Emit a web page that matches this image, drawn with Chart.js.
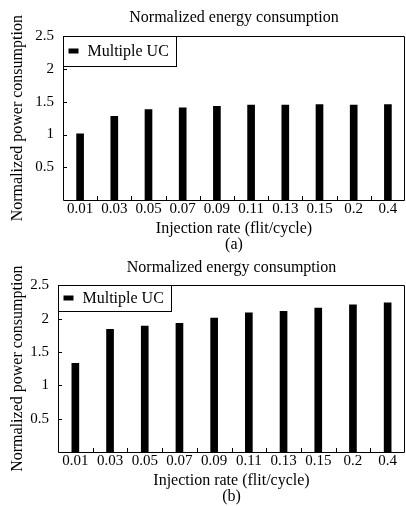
<!DOCTYPE html>
<html>
<head>
<meta charset="utf-8">
<script src="https://cdn.jsdelivr.net/npm/chart.js@4.4.1/dist/chart.umd.min.js"></script>
<style>
  html, body { margin: 0; padding: 0; background: #fff; }
  .box { position: relative; width: 406px; }
  #boxA { height: 254px; }
  #boxB { height: 252px; }
</style>
</head>
<body>
<div class="box" id="boxA"><canvas id="chartA"></canvas></div>
<div class="box" id="boxB"><canvas id="chartB"></canvas></div>
<script>
// injection rates (flit/cycle)
const rates = ['0.01', '0.03', '0.05', '0.07', '0.09', '0.11', '0.13', '0.15', '0.2', '0.4'];
// normalized power, figure (a)
const powerA = [1.01, 1.28, 1.38, 1.41, 1.43, 1.45, 1.45, 1.46, 1.45, 1.46];
// normalized power, figure (b)
const powerB = [1.33, 1.84, 1.89, 1.93, 2.01, 2.09, 2.11, 2.16, 2.21, 2.24];
const yTicks = [0.5, 1, 1.5, 2, 2.5];

const FONT = '"Liberation Serif", "Times New Roman", serif';
Chart.defaults.font.family = FONT;
Chart.defaults.font.size = 15;
Chart.defaults.color = '#000';

// frame, inward tick marks and boxed legend in the top-left corner
const framePlugin = {
    id: 'frame',
    afterDraw(chart, args, opts) {
        const ctx = chart.ctx;
        const a = chart.chartArea;
        const xs = chart.scales.x;
        const ys = chart.scales.y;
        ctx.save();
        ctx.strokeStyle = '#000';
        ctx.lineWidth = 1;
        ctx.beginPath();
        ctx.rect(Math.round(a.left) + 0.5, Math.round(a.top) + 0.5, Math.round(a.right - a.left) - 1, Math.round(a.bottom - a.top));
        ctx.stroke();
        ctx.beginPath();
        for (let i = 1; i < xs.ticks.length; i++) {
            const x = Math.round((xs.getPixelForTick(i - 1) + xs.getPixelForTick(i)) / 2) + 0.5;
            ctx.moveTo(x, a.bottom);
            ctx.lineTo(x, a.bottom - 4);
        }
        yTicks.forEach(function (v) {
            const y = Math.round(ys.getPixelForValue(v)) + 0.5;
            ctx.moveTo(a.left, y);
            ctx.lineTo(a.left + 4, y);
        });
        ctx.stroke();
        // legend
        const label = chart.data.datasets[0].label;
        ctx.font = '16px ' + FONT;
        const w = Math.round(ctx.measureText(label).width + 32);
        const h = opts.boxHeight;
        const lx = Math.round(a.left) + 0.5;
        const ly = Math.round(a.top) + 0.5;
        ctx.fillStyle = '#fff';
        ctx.fillRect(lx, ly, w, h);
        ctx.strokeRect(lx, ly, w, h);
        ctx.fillStyle = '#000';
        ctx.fillRect(lx + 5, ly + Math.round(h / 2) - 3, 10, 5);
        ctx.textBaseline = 'middle';
        ctx.fillText(label, lx + 24, ly + h / 2);
        ctx.restore();
    }
};

function makeChart(id, values, sub, leftWidth, titlePad, legendH) {
    const ctx = document.getElementById(id).getContext('2d');
    return new Chart(ctx, {
        type: 'bar',
        data: {
            labels: rates,
            datasets: [{
                label: 'Multiple UC',
                data: values,
                backgroundColor: '#000',
                borderWidth: 0,
                barThickness: 7
            }]
        },
        plugins: [framePlugin],
        options: {
            responsive: true,
            maintainAspectRatio: false,
            animation: false,
            layout: { padding: { right: 1 } },
            scales: {
                x: {
                    grid: { display: false, drawTicks: false },
                    border: { display: false },
                    ticks: { padding: 0, maxRotation: 0, autoSkip: false, font: { size: 15, lineHeight: 1.2 } },
                    title: { display: true, text: 'Injection rate (flit/cycle)', padding: { top: 3, bottom: 0 }, font: { size: 16, lineHeight: 1 } }
                },
                y: {
                    min: 0,
                    max: 2.5,
                    afterFit: function (scale) { scale.width = leftWidth; },
                    afterBuildTicks: function (scale) {
                        scale.ticks = yTicks.map(function (v) { return { value: v }; });
                    },
                    grid: { display: false, drawTicks: false },
                    border: { display: false },
                    ticks: {
                        padding: 9,
                        font: { size: 15 },
                        callback: function (v) { return String(v); }
                    },
                    title: { display: true, text: 'Normalized power consumption', padding: 9, font: { size: 16, lineHeight: 1.15 } }
                }
            },
            plugins: {
                legend: { display: false },
                tooltip: { enabled: false },
                frame: { boxHeight: legendH },
                title: {
                    display: true,
                    fullSize: false,
                    text: 'Normalized energy consumption',
                    font: { size: 16, weight: 'normal', lineHeight: 1.15 },
                    padding: titlePad
                },
                subtitle: {
                    display: true,
                    fullSize: false,
                    position: 'bottom',
                    text: sub,
                    font: { size: 16, lineHeight: 1 },
                    padding: { top: 0, bottom: 1 }
                }
            }
        }
    });
}

window.addEventListener('DOMContentLoaded', function () {
    makeChart('chartA', powerA, '(a)', 63, { top: 9, bottom: 9 }, 30);
    makeChart('chartB', powerB, '(b)', 58, { top: 5, bottom: 8 }, 26);
});
</script>
</body>
</html>
